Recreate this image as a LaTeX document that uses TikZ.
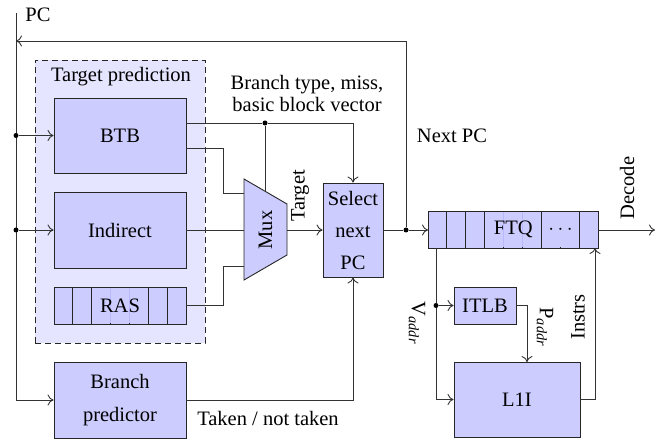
\documentclass[tikz,border=0pt]{standalone}
\usepackage{fontspec}
\setmainfont{Liberation Serif}
\newfontfamily\tms{Liberation Serif}
\usetikzlibrary{calc,arrows.meta}
\begin{document}
\begin{tikzpicture}[x=1pt,y=-1pt,line width=0.9pt,
  >={To[length=6pt,width=11pt]},
  wire/.style={draw=black!80},
  arr/.style={wire,->},
  blk/.style={draw=black!85,fill=blue!20,minimum width=132pt,minimum height=75pt,inner sep=0pt,align=center},
  cell/.style={draw=black!85,fill=blue!20},
  faint/.style={draw=blue!28,line width=0.6pt},
  lbl/.style={inner sep=0pt,align=center},
  dot/.style={circle,fill=black,inner sep=0pt,minimum size=5pt},
  every node/.style={font=\tms\fontsize{20.5}{24}\selectfont}]
\useasboundingbox (0,0) rectangle (657,441);
% dashed target prediction box
\node[draw=black!85,dash pattern=on 6pt off 4pt,fill=blue!10,minimum width=170pt,minimum height=283pt,inner sep=0pt] (tp) at (120,201.5) {};
\node[lbl] (tplbl) at (121,77) {Target prediction};
% blocks
\node[blk] (btb) at (120,135.5) {BTB};
\node[blk,minimum height=76pt] (ind) at (120,230) {Indirect};
\node[blk,minimum height=76pt,font=\tms\fontsize{20.5}{33}\selectfont] (bp) at (120,400) {Branch\\predictor};
% RAS
\foreach \i in {0,...,6}{
  \draw[cell] ({54+\i*18.857},287) rectangle ({54+(\i+1)*18.857},324);
}
\node[fill=blue!20,inner sep=0pt,minimum width=55pt,minimum height=35.5pt] (raslbl) at (120,305.5) {};
\draw[faint] (110.6,287.8) -- (110.6,323.2) (129.4,287.8) -- (129.4,323.2);
\node[lbl] at (120,305.5) {RAS};
\coordinate (ras) at (186,305.5);
% Mux
\coordinate (mtl) at (244,179);
\coordinate (mbl) at (244,280);
\coordinate (mtr) at (287,204);
\coordinate (mbr) at (287,255);
\draw[draw=black!85,fill=blue!20] (mtl) -- (mtr) -- (mbr) -- (mbl) -- cycle;
\node[lbl,rotate=90] (mux) at (265.5,230) {Mux};
% Select next PC
\node[blk,minimum width=60pt,minimum height=94pt,font=\tms\fontsize{20.5}{32}\selectfont] (sel) at (353,230) {Select\\next\\PC};
% FTQ
\foreach \i in {0,...,8}{
  \draw[cell] ({428+\i*18.889},211) rectangle ({428+(\i+1)*18.889},248);
}
\node[fill=blue!20,inner sep=0pt,minimum width=55.5pt,minimum height=35.5pt] at (513.3,229.5) {};
\node[fill=blue!20,inner sep=0pt,minimum width=36.5pt,minimum height=35.5pt] at (560.5,229.5) {};
\draw[faint] (503.6,211.8) -- (503.6,247.2) (522.4,211.8) -- (522.4,247.2);
\node[lbl] (ftq) at (513.3,229.5) {FTQ};
\node[lbl] at (560.5,229.5) {$\cdots$};
\coordinate (ftqw) at (428,230);
\coordinate (ftqe) at (598,230);
% ITLB, L1I
\node[blk,minimum width=62pt,minimum height=37pt] (itlb) at (485,305.5) {ITLB};
\node[blk,minimum width=126pt,minimum height=75pt] (l1i) at (517,399.5) {L1I};
% PC
\coordinate (pctop) at (16,13);
\node[lbl] (pc) at (38,15) {PC};
\draw[arr] (pctop) |- (bp.west);
\node[dot] (d1) at (16,135.5) {};
\node[dot] (d2) at (16,230) {};
\draw[arr] (d1) -- (btb.west);
\draw[arr] (d2) -- (ind.west);
% BTB outputs
\coordinate (bt1) at (186,123);
\coordinate (bt2) at (186,148);
\node[dot] (d3) at (265,123) {};
\draw[wire] (bt1) -- (d3);
\draw[arr] (d3) -| (sel.north);
\draw[wire] (d3) -- (265,191);
\draw[wire] (bt2) -| (223,193) -- (244,193);
\draw[wire] (ind.east) -- (244,230);
\draw[wire] (ras) -| (223,266) -- (244,266);
\draw[arr] (287,230) -- (sel.west);
\node[lbl,rotate=90] (tgt) at (300,196) {Target};
\node[lbl,font=\tms\fontsize{20.5}{22}\selectfont] (bt) at (307,93) {Branch type, miss,\\basic block vector};
% Taken / not taken
\draw[arr] (bp.east) -| (sel.south);
\node[lbl] (tnt) at (268,418) {Taken / not taken};
% Next PC
\node[dot] (d4) at (406,230) {};
\draw[wire] (sel.east) -- (d4);
\draw[arr] (d4) -- (ftqw);
\draw[arr] (d4) |- (16,41);
\node[lbl] (npc) at (452,136) {Next PC};
% Decode
\coordinate (dec) at (655,230);
\draw[arr] (ftqe) -- (dec);
\node[lbl,rotate=90] (decl) at (627,188) {Decode};
% Lower
\node[dot] (d5) at (436,305.5) {};
\draw[wire] (436,248) -- (d5);
\draw[arr] (d5) |- (l1i.west);
\draw[arr] (d5) -- (itlb.west);
\draw[arr] (itlb.east) -| (527,362);
\draw[arr] (l1i.east) -| (595,248);
\node[lbl,rotate=-90] (va) at (417,323) {V\textsubscript{\itshape addr}};
\node[lbl,rotate=-90] (pa) at (545,327) {P\textsubscript{\itshape addr}};
\node[lbl,rotate=90] (ins) at (578,317) {Instrs};
\end{tikzpicture}
\end{document}
